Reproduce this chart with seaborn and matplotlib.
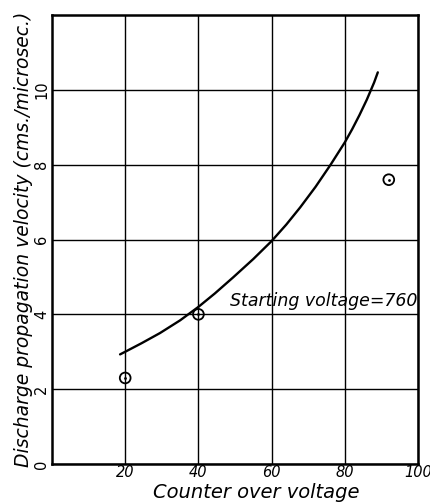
import matplotlib
matplotlib.use("Agg")
import matplotlib.pyplot as plt
import seaborn as sns
import pandas as pd

# Data
curve_x = [18.6, 20, 24.5, 29.5, 35, 40, 44.5, 49.5, 55, 60, 64, 67.8, 72, 76.1, 80, 82, 84, 86, 88, 89]
curve_y = [2.93, 3.0, 3.23, 3.5, 3.84, 4.2, 4.56, 4.99, 5.48, 5.96, 6.4, 6.86, 7.41, 8.0, 8.6, 8.95, 9.33, 9.74, 10.2, 10.47]
points_x = [20, 40, 92]
points_y = [2.3, 4.0, 7.6]
x_ticks = [20, 40, 60, 80, 100]
y_ticks = [0, 2, 4, 6, 8, 10]
annotation = "Starting voltage=760"
x_label = "Counter over voltage"
y_label = "Discharge propagation velocity (cms./microsec.)"

sns.set_style("white")
plt.rcParams['font.family'] = ['DejaVu Sans']
plt.rcParams['text.color'] = 'black'
plt.rcParams['axes.labelcolor'] = 'black'
plt.rcParams['xtick.color'] = 'black'
plt.rcParams['ytick.color'] = 'black'

fig = plt.figure(figsize=(4.31, 5.04), dpi=100)
ax = fig.add_axes([0.1206, 0.0794, 0.97 - 0.1206, 0.97 - 0.0794])

curve = pd.DataFrame({"x": curve_x, "y": curve_y})
pts = pd.DataFrame({"x": points_x, "y": points_y})

sns.lineplot(data=curve, x="x", y="y", ax=ax, color="black", linewidth=1.7,
             sort=True, estimator=None)
sns.scatterplot(data=pts, x="x", y="y", ax=ax, marker="o", s=60,
                facecolor="none", edgecolor="black", linewidth=1.3, zorder=5)
sns.scatterplot(data=pts, x="x", y="y", ax=ax, marker="o", s=4,
                color="black", linewidth=0, zorder=6)

ax.set_xlim(0, 100)
ax.set_ylim(0, 12)
ax.set_xticks(x_ticks)
ax.set_yticks(y_ticks)
ax.grid(True, color="black", linewidth=1.0)
ax.set_axisbelow(True)
for s in ax.spines.values():
    s.set_color("black")
    s.set_linewidth(1.8)
ax.tick_params(axis="x", length=0, pad=1, labelsize=10.5)
ax.tick_params(axis="y", length=0, pad=2, labelsize=10.5)
for lab in ax.get_yticklabels():
    lab.set_rotation(90)
    lab.set_va("center")
for lab in ax.get_xticklabels():
    lab.set_style("italic")

ax.text(48.5, 4.35, annotation, fontsize=12.5, style="italic", va="center", ha="left")
ax.set_xlabel(x_label, fontsize=14, style="italic", labelpad=0)
ax.xaxis.set_label_coords(0.557, -0.042)
ax.set_ylabel(y_label, fontsize=13.5, style="italic", labelpad=1)

fig.savefig("out.png", dpi=100, facecolor="white")
